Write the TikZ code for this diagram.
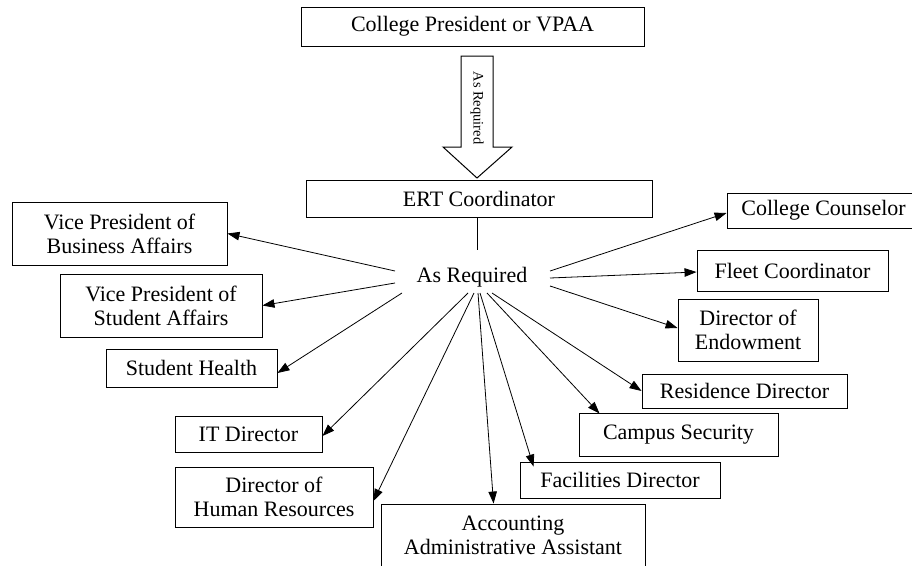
\documentclass[tikz,border=0pt]{standalone}
\usepackage{fontspec}
\setmainfont{Liberation Serif}
\usetikzlibrary{arrows.meta,calc}
\begin{document}
\begin{tikzpicture}[x=1pt,y=-1pt,
  box/.style={draw,line width=0.9pt,inner sep=0pt,align=center,font=\fontsize{22}{24}\selectfont},
  arr/.style={line width=0.8pt,-{Triangle[length=12pt,width=8.5pt]}},
  hubtext/.style={inner sep=0pt,font=\fontsize{22}{24}\selectfont},
  ]
\useasboundingbox (0,0) rectangle (912,565);
\fill[white] (0,0) rectangle (912,565);
% top boxes
\node[box,minimum width=343pt,minimum height=39pt] (pres) at (472.5,26.5) {College President or VPAA};
\node[box,minimum width=346pt,minimum height=37pt] (ert) at (479,198.5) {ERT Coordinator};
% block arrow
\draw[line width=1pt,fill=white] (461,56) -- (493,56) -- (493,147) -- (512,147) -- (477,178) -- (443,147) -- (461,147) -- cycle;
\node[rotate=-90,inner sep=0pt,font=\fontsize{14.5}{16}\selectfont] (blk) at (477,108) {As Required};
% hub
\node[hubtext] (hub) at (472,277) {As Required};
\coordinate (hubtop) at (477,250);
\draw[line width=0.8pt] (hubtop |- ert.south) -- (hubtop);
% left boxes
\node[box,minimum width=215pt,minimum height=63pt] (vpba) at (119.5,233.5) {Vice President of\\Business Affairs};
\node[box,minimum width=202pt,minimum height=63pt] (vpsa) at (161,305.5) {Vice President of\\Student Affairs};
\node[box,minimum width=171pt,minimum height=38pt] (sh) at (191.5,368) {Student Health};
\node[box,minimum width=147pt,minimum height=36pt] (it) at (248.5,434) {IT Director};
\node[box,minimum width=198pt,minimum height=60pt] (hr) at (274,497) {Director of\\Human Resources};
\node[box,minimum width=264pt,minimum height=63pt] (acc) at (513,535.5) {Accounting\\Administrative Assistant};
% right boxes
\node[box,minimum width=200pt,minimum height=36pt] (fac) at (620,480) {Facilities Director};
\node[box,minimum width=199pt,minimum height=43pt] (cs) at (678.5,434.5) {Campus Security};
\node[box,minimum width=205pt,minimum height=34pt] (rd) at (744.5,391) {Residence Director};
\node[box,minimum width=140pt,minimum height=62pt] (de) at (748,330) {Director of\\Endowment};
\node[box,minimum width=191pt,minimum height=41pt] (fc) at (792.5,270.5) {Fleet Coordinator};
\node[box,minimum width=193pt,minimum height=35pt] (cc) at (823.5,210.5) {College Counselor};
% start points around hub
\coordinate (l1) at (395,271);
\coordinate (l2) at (395,283);
\coordinate (l3) at (402,293);
\coordinate (r1) at (550,271);
\coordinate (r2) at (550,278);
\coordinate (r3) at (550,286);
\coordinate (b1) at (468,293);
\coordinate (b2) at (474,293);
\coordinate (b3) at (478,293);
\coordinate (b4) at (480,293);
\coordinate (b5) at (487,293);
\coordinate (b6) at (492,293);
% arrows
\draw[arr] (l1) -- (vpba.east);
\draw[arr] (l2) -- (vpsa.east);
\draw[arr] (l3) -- ([yshift=-5pt]sh.east);
\draw[arr] (b1) -- ([yshift=-2pt]it.east);
\draw[arr] (b2) -- ([yshift=-4pt]hr.east);
\draw[arr] (b3) -- ([xshift=113pt]acc.north west);
\draw[arr] (b4) -- ([xshift=14pt,yshift=-5pt]fac.north west);
\draw[arr] (b5) -- ([xshift=21pt,yshift=-1pt]cs.north west);
\draw[arr] (b6) -- (rd.west);
\draw[arr] (r3) -- ([yshift=2pt]de.west);
\draw[arr] (r2) -- ([yshift=-1.5pt]fc.west);
\draw[arr] (r1) -- ([yshift=-2.5pt]cc.west);
\end{tikzpicture}
\end{document}
